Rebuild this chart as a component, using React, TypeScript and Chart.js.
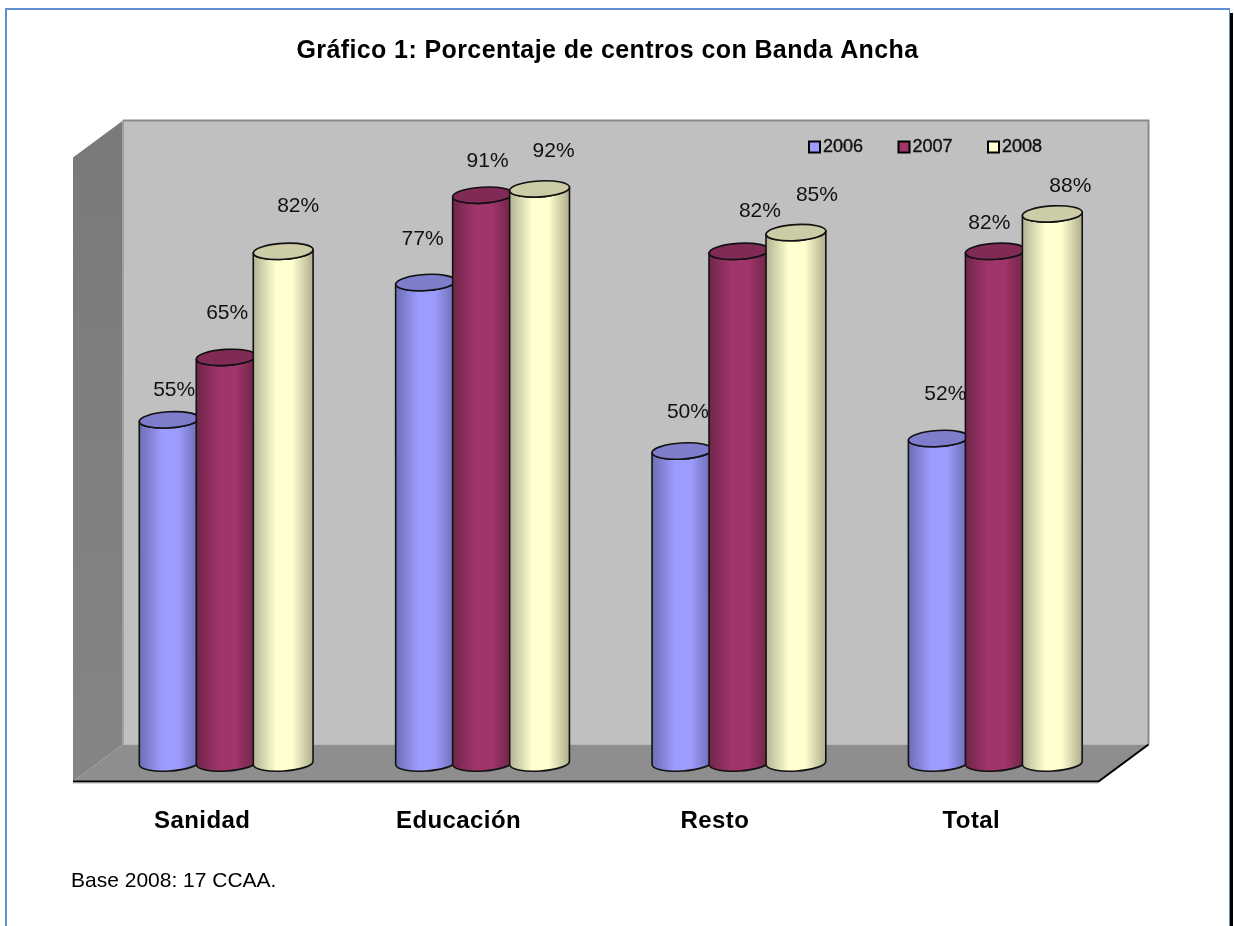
import React, { useEffect, useRef } from "react";
import { Chart, registerables } from "chart.js";

Chart.register(...registerables);

const categories = ["Sanidad", "Educación", "Resto", "Total"];
const years = ["2006", "2007", "2008"];
const values2006 = [55, 77, 50, 52];
const values2007 = [65, 91, 82, 82];
const values2008 = [82, 92, 85, 88];
const seriesColors = ["#9C9CFF", "#A0356A", "#FFFFD0"];

// Hand-placed nudges of the percentage labels, relative to each cylinder's top.
const labelNudgeX = [
  [5, -3, 6, 7],
  [1, 5, 21, -6],
  [15, 14, 21, 18],
];
const labelNudgeY = [
  [-30, -43, -39, -44],
  [-44, -34, -40, -28],
  [-45, -38, -37, -28],
];

const FONT = '"Liberation Sans", Arial, sans-serif';
const DEPTH_X = 25;
const DEPTH_Y = 18.5;
const TILT = -0.06;
const CAP_RY = 8;

function shade(hex: string, f: number): string {
  const n = parseInt(hex.slice(1), 16);
  const c = [(n >> 16) & 255, (n >> 8) & 255, n & 255].map((v) => Math.round(v * f));
  return `rgb(${c[0]},${c[1]},${c[2]})`;
}

function poly(ctx: CanvasRenderingContext2D, pts: number[][], fill: string | CanvasGradient) {
  ctx.beginPath();
  pts.forEach((p, i) => (i ? ctx.lineTo(p[0], p[1]) : ctx.moveTo(p[0], p[1])));
  ctx.closePath();
  ctx.fillStyle = fill;
  ctx.fill();
}

// Page frame: thin blue rule on three sides and a black edge on the right.
// Also sets the slightly open tracking of the title and axis labels.
const framePlugin = {
  id: "frame",
  beforeDraw(chart: any) {
    const { ctx, width, height } = chart;
    ctx.fillStyle = "#ffffff";
    ctx.fillRect(0, 0, width, height);
    ctx.fillStyle = "#5f8fd0";
    ctx.fillRect(5, 8, 1225, 2);
    ctx.fillRect(5, 8, 2, height - 8);
    ctx.fillRect(1229, 8, 1, height - 8);
    ctx.fillStyle = "#000000";
    ctx.fillRect(1230, 13, 3, height - 13);
    ctx.letterSpacing = "0.4px";
  },
};

// Box of the 3D plot: back wall, side wall and floor around the chart area.
const wallsPlugin = {
  id: "walls",
  beforeDatasetsDraw(chart: any) {
    const { ctx, chartArea: a } = chart;
    const backL = a.left + DEPTH_X;
    const backR = a.right + DEPTH_X;
    const backT = a.top - DEPTH_Y;
    const backB = a.bottom - DEPTH_Y;
    const frontL = a.left - DEPTH_X;
    const frontR = a.right - DEPTH_X;
    const frontT = a.top + DEPTH_Y;
    const frontB = a.bottom + DEPTH_Y;
    ctx.letterSpacing = "0px";
    ctx.save();
    poly(ctx, [[backL, backT], [backR, backT], [backR, backB], [backL, backB]], "#c0c0c0");
    ctx.strokeStyle = "#8a8a8a";
    ctx.lineWidth = 2;
    ctx.beginPath();
    ctx.moveTo(backL, backT);
    ctx.lineTo(backR, backT);
    ctx.lineTo(backR, backB);
    ctx.stroke();

    const side = ctx.createLinearGradient(0, frontT, 0, frontB);
    side.addColorStop(0, "#7a7a7a");
    side.addColorStop(1, "#858585");
    poly(ctx, [[frontL, frontT], [backL, backT], [backL, backB], [frontL, frontB]], side);
    ctx.fillStyle = "#a0a0a0";
    ctx.fillRect(backL - 1, backT, 2, backB - backT);

    poly(ctx, [[frontL, frontB], [backL, backB], [backR, backB], [frontR, frontB]], "#8e8e8e");
    ctx.strokeStyle = "#000000";
    ctx.lineWidth = 2;
    ctx.beginPath();
    ctx.moveTo(frontL, frontB);
    ctx.lineTo(frontR, frontB);
    ctx.lineTo(backR, backB);
    ctx.stroke();
    ctx.strokeStyle = "#b0b0b0";
    ctx.lineWidth = 1;
    ctx.beginPath();
    ctx.moveTo(frontL, frontB + 1.5);
    ctx.lineTo(frontR, frontB + 1.5);
    ctx.stroke();
    ctx.restore();
  },
};

function drawCylinder(ctx: CanvasRenderingContext2D, bar: any, color: string) {
  const rx = bar.width / 2;
  const left = bar.x - rx;
  const right = bar.x + rx;
  const sag = rx * Math.sin(TILT);
  const grad = ctx.createLinearGradient(left, 0, right, 0);
  grad.addColorStop(0, shade(color, 0.7));
  grad.addColorStop(0.38, shade(color, 1));
  grad.addColorStop(0.65, shade(color, 1));
  grad.addColorStop(1, shade(color, 0.68));

  ctx.beginPath();
  ctx.moveTo(left, bar.y - sag);
  ctx.ellipse(bar.x, bar.base, rx, CAP_RY, TILT, Math.PI, 0, true);
  ctx.lineTo(right, bar.y + sag);
  ctx.ellipse(bar.x, bar.y, rx, CAP_RY, TILT, 0, Math.PI, false);
  ctx.closePath();
  ctx.fillStyle = grad;
  ctx.fill();
  ctx.strokeStyle = "#111111";
  ctx.lineWidth = 1.6;
  ctx.stroke();

  ctx.beginPath();
  ctx.ellipse(bar.x, bar.y, rx, CAP_RY, TILT, 0, Math.PI * 2);
  ctx.fillStyle = shade(color, 0.8);
  ctx.fill();
  ctx.stroke();
}

// Series are painted left to right over the library's bars, each with its labels,
// so later series overlap the labels of earlier ones.
const cylinderPlugin = {
  id: "cylinders",
  afterDatasetsDraw(chart: any) {
    const { ctx } = chart;
    ctx.save();
    chart.data.datasets.forEach((ds: any, i: number) => {
      chart.getDatasetMeta(i).data.forEach((bar: any, j: number) => {
        drawCylinder(ctx, bar, seriesColors[i]);
        ctx.fillStyle = "#111111";
        ctx.font = `21px ${FONT}`;
        ctx.textAlign = "center";
        ctx.textBaseline = "middle";
        ctx.fillText(`${ds.data[j]}%`, bar.x + labelNudgeX[i][j], bar.y + labelNudgeY[i][j]);
      });
    });
    ctx.restore();
  },
};

// Legend sits on the back wall, above the bars; its text is lightly emboldened.
const legendPlugin = {
  id: "wallLegend",
  afterDraw(chart: any) {
    const { ctx, chartArea: a } = chart;
    const y = a.top + 8;
    ctx.save();
    ctx.font = `18px ${FONT}`;
    ctx.textAlign = "left";
    ctx.textBaseline = "middle";
    chart.data.datasets.forEach((ds: any, i: number) => {
      const x = a.left + 711 + i * 89.5;
      ctx.fillStyle = seriesColors[i];
      ctx.fillRect(x, y - 5.5, 11, 11);
      ctx.strokeStyle = "#000000";
      ctx.lineWidth = 2;
      ctx.strokeRect(x, y - 5.5, 11, 11);
      ctx.fillStyle = "#111111";
      ctx.fillText(ds.label, x + 14, y);
      ctx.strokeStyle = "#111111";
      ctx.lineWidth = 0.4;
      ctx.strokeText(ds.label, x + 14, y);
    });
    ctx.restore();
  },
};

// Source note under the axis.
const notePlugin = {
  id: "note",
  afterDraw(chart: any) {
    const { ctx } = chart;
    ctx.save();
    ctx.font = `21px ${FONT}`;
    ctx.fillStyle = "#000000";
    ctx.textAlign = "left";
    ctx.textBaseline = "middle";
    ctx.fillText("Base 2008: 17 CCAA.", 71, 881);
    ctx.restore();
  },
};

export default function App() {
  const canvasRef = useRef<HTMLCanvasElement | null>(null);

  useEffect(() => {
    const series = [values2006, values2007, values2008];
    const chart = new Chart(canvasRef.current as HTMLCanvasElement, {
      type: "bar",
      data: {
        labels: categories,
        datasets: years.map((label, i) => ({
          label,
          data: series[i],
          backgroundColor: seriesColors[i],
          categoryPercentage: 0.667,
          barPercentage: 1.05,
        })),
      },
      options: {
        responsive: false,
        animation: false,
        layout: { padding: { left: 91.5, right: 110.5, top: 0, bottom: 0 } },
        plugins: {
          legend: { display: false },
          tooltip: { enabled: false },
          title: {
            display: true,
            text: "Gráfico 1: Porcentaje de centros con Banda Ancha",
            color: "#000000",
            font: { family: FONT, size: 25, weight: "bold", lineHeight: 1.2 },
            padding: { top: 36, bottom: 73 },
          },
        },
        scales: {
          x: {
            grid: { display: false },
            border: { display: false },
            ticks: {
              color: "#000000",
              font: { family: FONT, size: 24, weight: "bold" },
              padding: 36,
              labelOffset: -24,
              maxRotation: 0,
              autoSkip: false,
            },
            afterFit(scale: any) {
              scale.height = 163;
            },
          },
          y: {
            min: 0,
            max: 100,
            grid: { display: false },
            border: { display: false },
            ticks: { display: false },
            afterFit(scale: any) {
              scale.width = 6.5;
            },
          },
        },
      } as any,
      plugins: [framePlugin, wallsPlugin, cylinderPlugin, legendPlugin, notePlugin],
    });
    return () => chart.destroy();
  }, []);

  return (
    <canvas
      ref={canvasRef}
      width={1234}
      height={926}
      style={{ position: "absolute", left: 0, top: 0, display: "block" }}
    />
  );
}
